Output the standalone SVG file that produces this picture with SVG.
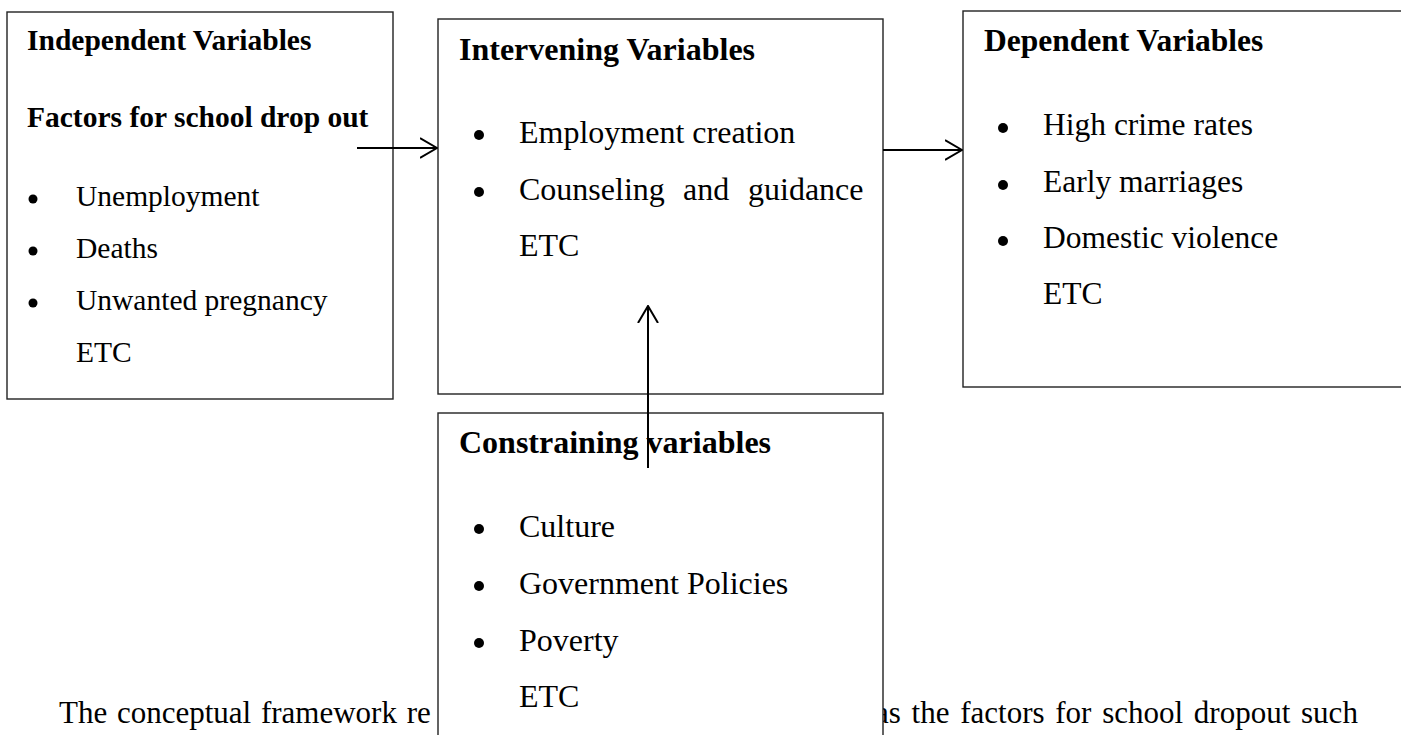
<svg xmlns="http://www.w3.org/2000/svg" width="1401" height="735" viewBox="0 0 1401 735">
<style>
.box{fill:#fff;stroke:#222;stroke-width:1.4}
.h{font-family:"Liberation Serif","Times New Roman",serif;font-weight:bold;fill:#000}
.t{font-family:"Liberation Serif","Times New Roman",serif;fill:#000}
.s1{font-size:29.5px}
.s2{font-size:32px}
.s3{font-size:31.5px}
.p{font-family:"Liberation Serif","Times New Roman",serif;font-size:31px;fill:#000}
.b{fill:#000}
.c{stroke:#000;stroke-width:2;fill:none}
</style>
<defs>
<marker id="arr" viewBox="0 0 18 22" refX="17" refY="11" markerWidth="18" markerHeight="22" markerUnits="userSpaceOnUse" orient="auto">
<path d="M0,1 L17,11 L0,21" fill="none" stroke="#000" stroke-width="2"/>
</marker>
</defs>
<rect width="1401" height="735" fill="#fff"/>
<g id="paragraph">
<text class="p" x="59" y="723" word-spacing="2">The conceptual framework re</text>
<text class="p" x="875" y="723" word-spacing="3">as the factors for school dropout such</text>
</g>
<g id="independent">
<rect class="box" x="7" y="12" width="386" height="387"/>
<text class="h s1" x="27" y="50">Independent Variables</text>
<text class="h s1" x="27" y="127">Factors for school drop out</text>
<circle class="b" cx="33" cy="199" r="4.5"/>
<circle class="b" cx="33" cy="251" r="4.5"/>
<circle class="b" cx="33" cy="303" r="4.5"/>
<text class="t s1" x="76" y="206">Unemployment</text>
<text class="t s1" x="76" y="258">Deaths</text>
<text class="t s1" x="76" y="310">Unwanted pregnancy</text>
<text class="t s1" x="76" y="362">ETC</text>
</g>
<g id="intervening">
<rect class="box" x="438" y="19" width="445" height="375"/>
<text class="h s2" x="459" y="60">Intervening Variables</text>
<circle class="b" cx="479" cy="135" r="5"/>
<circle class="b" cx="479" cy="192" r="5"/>
<text class="t s2" x="519" y="143">Employment creation</text>
<text class="t s2" y="200"><tspan x="519">Counseling</tspan><tspan x="683">and</tspan><tspan x="748">guidance</tspan></text>
<text class="t s2" x="519" y="256">ETC</text>
</g>
<g id="dependent">
<rect class="box" x="963" y="11" width="460" height="376"/>
<text class="h s3" x="984" y="51">Dependent Variables</text>
<circle class="b" cx="1003" cy="128" r="5"/>
<circle class="b" cx="1003" cy="185" r="5"/>
<circle class="b" cx="1003" cy="241" r="5"/>
<text class="t s3" x="1043" y="135">High crime rates</text>
<text class="t s3" x="1043" y="192">Early marriages</text>
<text class="t s3" x="1043" y="248">Domestic violence</text>
<text class="t s3" x="1043" y="304">ETC</text>
</g>
<g id="constraining">
<rect class="box" x="438" y="413" width="445" height="340"/>
<text class="h s2" x="459" y="453">Constraining variables</text>
<circle class="b" cx="479" cy="529" r="5"/>
<circle class="b" cx="479" cy="586" r="5"/>
<circle class="b" cx="479" cy="643" r="5"/>
<text class="t s2" x="519" y="537">Culture</text>
<text class="t s2" x="519" y="594">Government Policies</text>
<text class="t s2" x="519" y="651">Poverty</text>
<text class="t s2" x="519" y="707">ETC</text>
</g>
<g id="connectors">
<line class="c" x1="357" y1="148" x2="437" y2="148" marker-end="url(#arr)"/>
<line class="c" x1="883" y1="150" x2="962" y2="150" marker-end="url(#arr)"/>
<line class="c" x1="648" y1="468" x2="648" y2="306" marker-end="url(#arr)"/>
</g>
</svg>
